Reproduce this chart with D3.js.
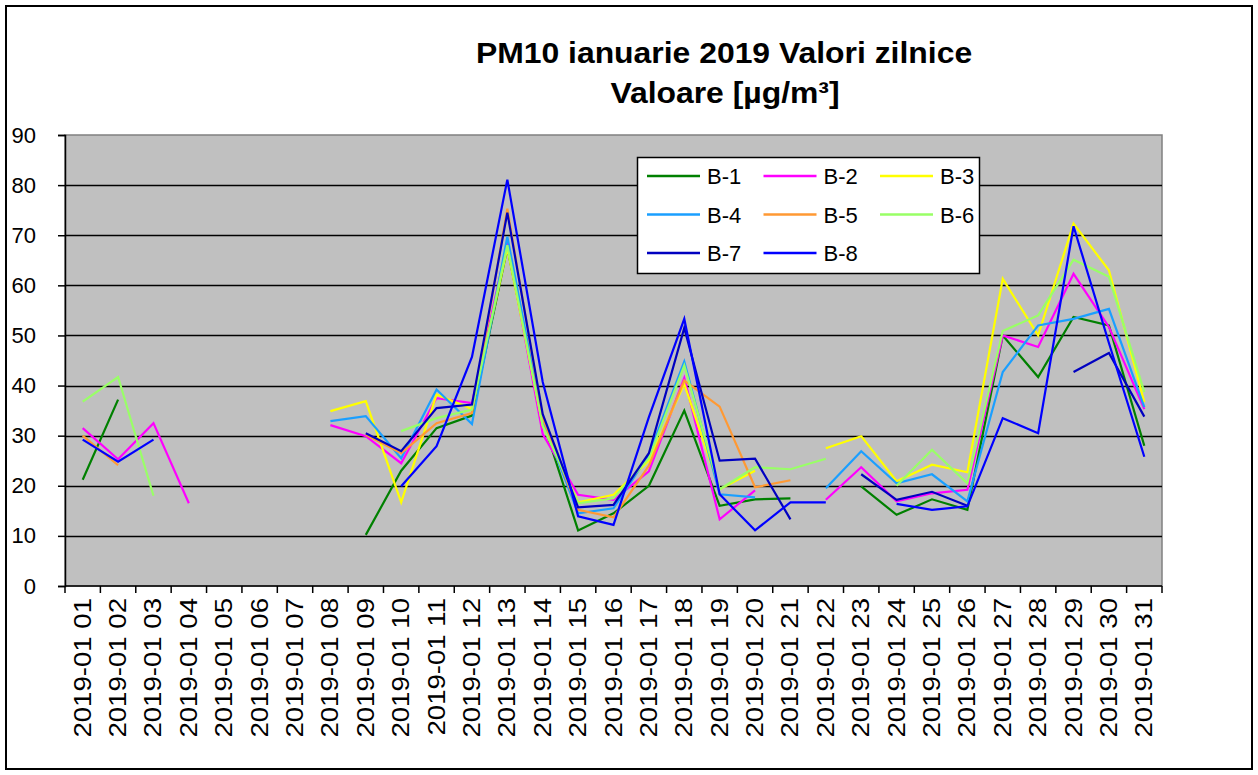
<!DOCTYPE html>
<html>
<head>
<meta charset="utf-8">
<script src="https://cdn.jsdelivr.net/npm/d3@7"></script>
<style>
  body { margin: 0; background: #fff; }
  text { font-family: "Liberation Sans", Arial, sans-serif; }
</style>
</head>
<body>
<div class="chart"></div>
<script>
// day labels on the x axis
const days = ["2019-01 01", "2019-01 02", "2019-01 03", "2019-01 04", "2019-01 05", "2019-01 06",
  "2019-01 07", "2019-01 08", "2019-01 09", "2019-01 10", "2019-01 11", "2019-01 12", "2019-01 13",
  "2019-01 14", "2019-01 15", "2019-01 16", "2019-01 17", "2019-01 18", "2019-01 19", "2019-01 20",
  "2019-01 21", "2019-01 22", "2019-01 23", "2019-01 24", "2019-01 25", "2019-01 26", "2019-01 27",
  "2019-01 28", "2019-01 29", "2019-01 30", "2019-01 31"];

const stations = ["B-1", "B-2", "B-3", "B-4", "B-5", "B-6", "B-7", "B-8"];
const yTicks = [0, 10, 20, 30, 40, 50, 60, 70, 80, 90];

// daily values, null = no data
const b1 = [21.2, 37.2, null, null, null, null, null, null, 10.2, 23, 31.5, 34.0, 67.5, 33, 11.1, 14.5,
  20, 35, 16, 17.3, 17.5, null, 19.9, 14.2, 17.3, 15.2, 50, 41.7, 53.7, 52, 28];
const b2 = [31.5, 25.3, 32.5, 16.5, null, null, null, 32.1, 29.9, 24.5, 37.5, 36.5, 68.5, 30.3, 18.2, 17.2,
  22.9, 41.5, 13.3, 19.1, null, 17.2, 23.7, 16.9, 18.5, 19.2, 50, 47.7, 62.3, 51.7, 35.3];
const b3 = [null, null, null, null, null, null, null, 34.9, 36.9, 16.7, 38.2, 35.3, 67.5, 32, 16.7, 18.2,
  25, 40.3, 19.3, 23, null, 27.5, 29.9, 20.9, 24.2, 22.7, 61.3, 50, 72.3, 63, 36.7];
const b4 = [null, null, null, null, null, null, null, 32.9, 33.9, 25.5, 39.2, 32.3, 69.7, 33, 14.5, 15.5,
  26.2, 44.8, 18.3, 17.7, null, 19.5, 26.9, 20.5, 22.3, 16.9, 42.7, 52, 53.3, 55.3, 35.7];
const b5 = [30, 24.1, null, null, null, null, null, null, 30.2, 26.5, 32.5, 34.5, 75.3, 33.5, 15.2, 13.7,
  24, 41, 35.8, 19.7, 21.1, null, null, null, null, null, null, null, null, null, null];
const b6 = [36.8, 41.7, 18.0, null, null, null, null, null, null, 30.9, 33.5, 35.2, 68, 32, 16.5, 17.5,
  25.5, 44, 19.3, 23.7, 23.3, 25.4, null, 20, 27.2, 20.5, 50.9, 54, 65.1, 61.7, 38.7];
const b7 = [null, null, null, null, null, null, null, null, 30.5, 26.9, 35.5, 36.2, 74.5, 34.3, 15.7, 16.2,
  26.5, 51.5, 25, 25.4, 13.3, null, 22.3, 17.2, 18.8, 16, null, null, 42.7, 46.5, 33.8];
const b8 = [29.2, 24.8, 29.2, null, null, null, null, null, null, 19.9, 27.9, 45.7, 81.1, 40.7, 13.9, 12.2,
  33.7, 53.3, 18.3, 11.1, 16.7, 16.7, null, 16.4, 15.2, 15.9, 33.5, 30.5, 71.8, 48.5, 25.8];

const series = [b1, b2, b3, b4, b5, b6, b7, b8];
const colors = ["#008000", "#ff00ff", "#ffff00", "#1a9fff", "#ff9933", "#99ff66", "#0000c0", "#0000ff"];

const W = 1258, H = 775;
const plot = { left: 65, right: 1162, top: 135, bottom: 586 };

const svg = d3.select(".chart").append("svg")
  .attr("width", W)
  .attr("height", H);

// outer frame
svg.append("rect")
  .attr("x", 6).attr("y", 6)
  .attr("width", W - 12).attr("height", H - 12)
  .attr("fill", "#fff")
  .attr("stroke", "#000")
  .attr("stroke-width", 2);

const x = d3.scaleBand()
  .domain(days)
  .range([plot.left, plot.right]);

const y = d3.scaleLinear()
  .domain([0, 90])
  .range([plot.bottom, plot.top]);

// grey plot area
svg.append("rect")
  .attr("x", plot.left).attr("y", plot.top)
  .attr("width", plot.right - plot.left)
  .attr("height", plot.bottom - plot.top)
  .attr("fill", "#c0c0c0")
  .attr("stroke", "#808080")
  .attr("stroke-width", 1.5);

// horizontal grid
svg.append("g")
  .selectAll("line")
  .data(yTicks.filter(d => d > 0 && d < 90))
  .join("line")
  .attr("x1", plot.left).attr("x2", plot.right)
  .attr("y1", d => Math.round(y(d)) + 0.5)
  .attr("y2", d => Math.round(y(d)) + 0.5)
  .attr("stroke", "#000")
  .attr("stroke-width", 1.5);

// y axis
const yAxis = svg.append("g")
  .attr("transform", `translate(${plot.left},0)`)
  .call(d3.axisLeft(y).tickValues(yTicks).tickSize(7).tickPadding(22));
yAxis.select(".domain").attr("stroke", "#000").attr("stroke-width", 1.5);
yAxis.selectAll(".tick line").attr("stroke-width", 1.5);
yAxis.selectAll("text")
  .attr("font-size", 22)
  .attr("fill", "#000")
  .attr("font-family", "Liberation Sans, Arial, sans-serif");

// x axis: ticks between categories
const xAxis = svg.append("g")
  .attr("transform", `translate(0,${plot.bottom})`);
xAxis.append("line")
  .attr("x1", plot.left).attr("x2", plot.right)
  .attr("stroke", "#000").attr("stroke-width", 1.5);
xAxis.selectAll(".tk")
  .data(days.concat(["end"]))
  .join("line")
  .attr("class", "tk")
  .attr("x1", (d, i) => plot.left + i * x.step())
  .attr("x2", (d, i) => plot.left + i * x.step())
  .attr("y1", 0).attr("y2", 7)
  .attr("stroke", "#000").attr("stroke-width", 1.5);
xAxis.selectAll(".lbl")
  .data(days)
  .join("text")
  .attr("class", "lbl")
  .attr("transform", d => `translate(${x(d) + x.bandwidth() / 2 + 8},12) rotate(-90) scale(1.2,1)`)
  .attr("text-anchor", "end")
  .attr("font-size", 23)
  .text(d => d);

// lines
const line = d3.line()
  .defined(d => d != null)
  .x((d, i) => x(days[i]) + x.bandwidth() / 2)
  .y(d => y(d));

svg.append("g")
  .selectAll("path")
  .data(series)
  .join("path")
  .attr("d", d => line(d))
  .attr("fill", "none")
  .attr("stroke", (d, i) => colors[i])
  .attr("stroke-width", 2.2)
  .attr("stroke-linejoin", "miter");

// title
const title = svg.append("g").attr("font-weight", "bold").attr("text-anchor", "middle");
title.append("text")
  .attr("transform", "translate(724,63) scale(1.1,1)")
  .attr("font-size", 29)
  .text("PM10 ianuarie 2019 Valori zilnice");
title.append("text")
  .attr("transform", "translate(725,103) scale(1.1,1)")
  .attr("font-size", 29)
  .text("Valoare [µg/m³]");

// legend
const legend = svg.append("g");
legend.append("rect")
  .attr("x", 637.5).attr("y", 157.5)
  .attr("width", 342).attr("height", 116)
  .attr("fill", "#fff")
  .attr("stroke", "#000")
  .attr("stroke-width", 1.5);

const item = legend.selectAll(".item")
  .data(stations)
  .join("g")
  .attr("class", "item")
  .attr("transform", (d, i) => `translate(${647 + (i % 3) * 116.5},${176 + Math.floor(i / 3) * 38.5})`);
item.append("line")
  .attr("x1", 0).attr("x2", 53)
  .attr("stroke", (d, i) => colors[i])
  .attr("stroke-width", 2.5);
item.append("text")
  .attr("x", 60).attr("y", 8)
  .attr("font-size", 22)
  .text(d => d);
</script>
</body>
</html>
